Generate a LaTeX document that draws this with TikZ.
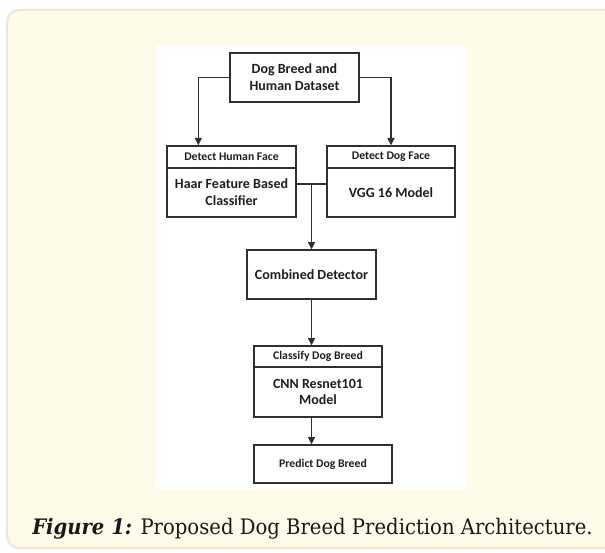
\documentclass[tikz,border=0pt]{standalone}
\usepackage{fontspec}
\usepackage{graphicx}
\setmainfont{Carlito}
\newfontfamily\capfont{DejaVu Serif}
\usetikzlibrary{arrows.meta}
\definecolor{cream}{HTML}{FFFBE9}
\definecolor{creamline}{HTML}{ECE7D8}
\definecolor{ink}{HTML}{303030}
\tikzset{
  px/.style={x=0.75pt,y=-0.75pt},
  boxnode/.style={draw=ink,line width=1pt,fill=white,inner sep=0pt,align=center,font=\bfseries\fontsize{10.5pt}{12.6pt}\selectfont,text=black!88},
  headnode/.style={boxnode,font=\bfseries\fontsize{8.8pt}{10.5pt}\selectfont},
  conn/.style={draw=ink,line width=1pt},
  arr/.style={conn,-{Triangle[length=5.5pt,width=5.2pt]}}
}
\begin{document}
\begin{tikzpicture}[px]
\clip (0,0) rectangle (605,552);
\fill[white] (0,0) rectangle (605,552);
\draw[creamline,line width=1.5pt,fill=cream,rounded corners=9pt] (7,10) rectangle (640,548);
\fill[white] (156,45) rectangle (466,490);
% boxes
\node[boxnode,minimum width=129*0.75pt,minimum height=49*0.75pt] (top) at (294.5,77.5) {Dog Breed and\\Human Dataset};
\node[headnode,minimum width=129*0.75pt,minimum height=22*0.75pt] (lh) at (231.5,157) {Detect Human Face};
\node[boxnode,minimum width=129*0.75pt,minimum height=49*0.75pt] (lb) at (231.5,192.5) {Haar Feature Based\\Classifier};
\node[headnode,minimum width=128*0.75pt,minimum height=22*0.75pt] (rh) at (391,157) {Detect Dog Face};
\node[boxnode,minimum width=128*0.75pt,minimum height=49*0.75pt] (rb) at (391,192.5) {VGG 16 Model};
\node[boxnode,minimum width=129*0.75pt,minimum height=49*0.75pt] (comb) at (311.5,274.5) {Combined Detector};
\node[headnode,minimum width=128*0.75pt,minimum height=21*0.75pt] (ch) at (318,356.5) {Classify Dog Breed};
\node[boxnode,minimum width=128*0.75pt,minimum height=50*0.75pt] (cb) at (318,392) {CNN Resnet101\\Model};
\node[headnode,minimum width=138*0.75pt,minimum height=38*0.75pt] (pred) at (323,464) {Predict Dog Breed};
% connectors
\draw[arr] (top.west) -| ([xshift=24pt]lh.north west);
\draw[arr] (top.east) -| (rh.north);
\coordinate (j) at (311.5,184);
\draw[conn] (lb.east |- j) -- (rb.west |- j);
\draw[arr] (j) -- (comb.north);
\draw[arr] (comb.south) -- (comb.south |- ch.north);
\draw[arr] (comb.south |- cb.south) -- (comb.south |- pred.north);
% caption
\node[anchor=base west,inner sep=0pt,text=black!90] (cap) at (32,534) {\scalebox{0.92}[1]{\capfont\fontsize{16pt}{19pt}\selectfont\textbf{\textit{Figure 1:}} Proposed Dog Breed Prediction Architecture.}};
\end{tikzpicture}
\end{document}
